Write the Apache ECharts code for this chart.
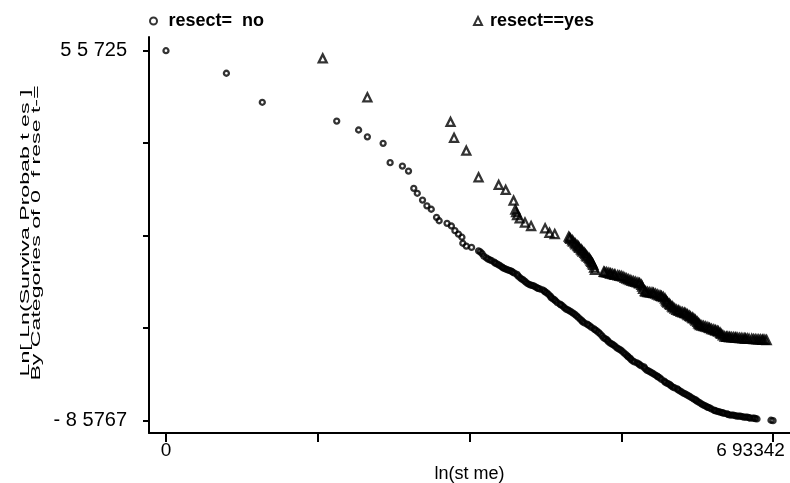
<!DOCTYPE html>
<html>
<head>
<meta charset="utf-8">
<script src="https://cdn.jsdelivr.net/npm/echarts@6/dist/echarts.min.js"></script>
<style>
html,body{margin:0;padding:0;background:#fff;}
#chart{width:790px;height:483px;}
</style>
</head>
<body>
<div id="chart"></div>
<script>
// ---- data ----
const seriesNames = ['resect=  no', 'resect==yes'];

const noX = [0, 0.69, 1.10, 1.95, 2.20, 2.30, 2.48, 2.56, 2.70, 2.77, 2.83, 2.87, 2.93, 2.98, 3.03, 3.09, 3.12, 3.21, 3.26,
  3.30, 3.34, 3.38, 3.39, 3.43, 3.49, 3.57, 3.59, 3.61, 3.63, 3.66, 3.68, 3.70, 3.72, 3.75, 3.76, 3.78, 3.80, 3.82, 3.84,
  3.85, 3.87, 3.89, 3.91, 3.93, 3.95, 3.96, 3.98, 4.01, 4.02, 4.04, 4.06, 4.08, 4.10, 4.12, 4.14, 4.16, 4.18, 4.20, 4.22,
  4.24, 4.25, 4.27, 4.30, 4.32, 4.33, 4.35, 4.37, 4.39, 4.40, 4.42, 4.44, 4.45, 4.47, 4.50, 4.51, 4.53, 4.55, 4.57, 4.59,
  4.61, 4.63, 4.65, 4.67, 4.69, 4.71, 4.73, 4.75, 4.76, 4.78, 4.81, 4.82, 4.84, 4.86, 4.89, 4.90, 4.92, 4.94, 4.96, 4.98,
  5.00, 5.02, 5.04, 5.05, 5.07, 5.09, 5.11, 5.13, 5.15, 5.17, 5.19, 5.21, 5.23, 5.25, 5.27, 5.28, 5.30, 5.31, 5.33, 5.35,
  5.38, 5.40, 5.41, 5.43, 5.46, 5.47, 5.49, 5.51, 5.53, 5.55, 5.57, 5.59, 5.61, 5.62, 5.64, 5.66, 5.69, 5.70, 5.72, 5.74,
  5.76, 5.77, 5.79, 5.81, 5.84, 5.85, 5.87, 5.89, 5.91, 5.93, 5.95, 5.97, 5.99, 6.01, 6.03, 6.05, 6.06, 6.08, 6.10, 6.12,
  6.14, 6.16, 6.18, 6.19, 6.21, 6.23, 6.26, 6.27, 6.29, 6.31, 6.33, 6.35, 6.36, 6.38, 6.41, 6.42, 6.44, 6.46, 6.48, 6.50,
  6.52, 6.54, 6.56, 6.58, 6.60, 6.62, 6.64, 6.66, 6.67, 6.70, 6.72, 6.73, 6.75, 6.91, 6.93342];
const noY = [5.5725, 4.71, 3.60, 2.88, 2.54, 2.28, 2.03, 1.29, 1.16, 0.97, 0.31, 0.12, -0.14, -0.36, -0.49, -0.80, -0.93, -1.03, -1.13,
  -1.31, -1.44, -1.56, -1.79, -1.90, -1.95, -2.08, -2.12, -2.19, -2.28, -2.35, -2.40, -2.43, -2.46, -2.51, -2.55, -2.58, -2.62, -2.66, -2.70,
  -2.73, -2.76, -2.79, -2.82, -2.84, -2.87, -2.90, -2.93, -2.98, -3.04, -3.10, -3.15, -3.19, -3.25, -3.31, -3.35, -3.38, -3.40, -3.42, -3.46,
  -3.50, -3.52, -3.54, -3.57, -3.61, -3.65, -3.69, -3.75, -3.81, -3.87, -3.92, -3.96, -4.00, -4.06, -4.12, -4.15, -4.19, -4.25, -4.31, -4.34,
  -4.38, -4.42, -4.46, -4.51, -4.57, -4.63, -4.69, -4.75, -4.80, -4.84, -4.88, -4.91, -4.95, -5.01, -5.07, -5.10, -5.14, -5.20, -5.26, -5.33,
  -5.41, -5.45, -5.49, -5.54, -5.60, -5.64, -5.68, -5.73, -5.79, -5.83, -5.87, -5.92, -5.98, -6.04, -6.10, -6.14, -6.18, -6.23, -6.29, -6.33,
  -6.37, -6.40, -6.44, -6.48, -6.52, -6.58, -6.64, -6.67, -6.71, -6.75, -6.79, -6.83, -6.87, -6.90, -6.94, -7.00, -7.06, -7.10, -7.14, -7.17,
  -7.21, -7.25, -7.29, -7.32, -7.36, -7.40, -7.44, -7.48, -7.52, -7.55, -7.59, -7.63, -7.67, -7.71, -7.75, -7.78, -7.82, -7.86, -7.90, -7.94,
  -7.98, -8.01, -8.05, -8.07, -8.09, -8.13, -8.17, -8.19, -8.21, -8.23, -8.25, -8.27, -8.28, -8.30, -8.32, -8.34, -8.36, -8.36, -8.36, -8.38,
  -8.40, -8.40, -8.40, -8.42, -8.44, -8.44, -8.44, -8.46, -8.48, -8.48, -8.48, -8.50, -8.51, -8.56, -8.5767];

const yesX = [1.79, 2.30, 3.25, 3.29, 3.43, 3.57, 3.80, 3.88, 3.97, 3.99, 4.00, 4.01, 4.04, 4.10, 4.17, 4.33, 4.38, 4.44,
  4.60, 4.61, 4.62, 4.64, 4.65, 4.67, 4.68, 4.70, 4.71, 4.72, 4.74, 4.75, 4.76, 4.78, 4.79, 4.80, 4.81, 4.83, 4.84, 4.85,
  4.86, 4.87, 4.88, 4.89, 4.90,
  5.00, 5.01, 5.03, 5.05, 5.07, 5.08, 5.10, 5.12, 5.13, 5.16, 5.18, 5.20, 5.22, 5.24, 5.26, 5.28, 5.30, 5.32, 5.34, 5.36,
  5.38, 5.40, 5.41, 5.43, 5.44, 5.45, 5.47, 5.48, 5.50, 5.52, 5.54, 5.56, 5.57, 5.59, 5.61, 5.63, 5.65, 5.66, 5.68, 5.70,
  5.71, 5.72, 5.73, 5.75, 5.76, 5.78, 5.79, 5.81, 5.83, 5.85, 5.86, 5.88, 5.90, 5.92, 5.93, 5.95, 5.96, 5.98, 5.99, 6.01,
  6.02, 6.04, 6.05, 6.07, 6.08, 6.09, 6.10, 6.12, 6.14, 6.16, 6.18, 6.20, 6.21, 6.23, 6.25, 6.27, 6.28, 6.30, 6.31, 6.33,
  6.34, 6.36, 6.38, 6.40, 6.41, 6.43, 6.44, 6.46, 6.48, 6.50, 6.51, 6.53, 6.55, 6.57, 6.59, 6.61, 6.62, 6.64, 6.66, 6.69,
  6.71, 6.73, 6.75, 6.77, 6.79, 6.81, 6.82, 6.84, 6.86];
const yesY = [5.28, 3.79, 2.85, 2.24, 1.75, 0.73, 0.44, 0.25, -0.16, -0.50, -0.60, -0.71, -0.84, -1.00, -1.13, -1.22, -1.39, -1.44,
  -1.54, -1.58, -1.62, -1.68, -1.73, -1.78, -1.83, -1.88, -1.92, -1.97, -2.02, -2.06, -2.11, -2.16, -2.21, -2.26, -2.30, -2.35, -2.40, -2.45,
  -2.50, -2.56, -2.62, -2.72, -2.81,
  -2.88, -2.89, -2.90, -2.92, -2.94, -2.95, -2.97, -2.99, -3.00, -3.02, -3.04, -3.05, -3.07, -3.11, -3.14, -3.17, -3.20, -3.23, -3.25, -3.27,
  -3.29, -3.31, -3.32, -3.38, -3.45, -3.53, -3.62, -3.64, -3.66, -3.67, -3.68, -3.69, -3.70, -3.72, -3.75, -3.78, -3.80, -3.82, -3.85, -3.91,
  -3.97, -4.02, -4.06, -4.11, -4.15, -4.20, -4.24, -4.29, -4.34, -4.36, -4.38, -4.41, -4.43, -4.45, -4.47, -4.50, -4.54, -4.57, -4.60, -4.63,
  -4.66, -4.70, -4.75, -4.80, -4.85, -4.88, -4.92, -4.94, -4.96, -4.98, -5.00, -5.02, -5.04, -5.07, -5.09, -5.11, -5.13, -5.15, -5.17, -5.22,
  -5.26, -5.31, -5.36, -5.37, -5.37, -5.38, -5.38, -5.39, -5.39, -5.40, -5.40, -5.41, -5.42, -5.42, -5.43, -5.43, -5.44, -5.44, -5.45, -5.45,
  -5.46, -5.46, -5.47, -5.47, -5.47, -5.48, -5.48, -5.48, -5.49];

const xTickValues = [0, 1.733355, 3.46671, 5.200065, 6.93342];
const xLabelValues = [0, 6.93342];
const xTickLabels = ['0', '6 93342'];
const yTickValues = [5.5725, 2.0352, -1.5021, -5.0394, -8.5767];
const yLabelValues = [5.5725, -8.5767];
const yTickLabels = ['5 5 725', '- 8 5767'];
const xTitle = 'ln(st me)';
const yTitle = ['Ln[ Ln(Surviva Probab t es ]', 'By Categories of 0  f rese t-='];

// ---- chart ----
const FONT = '"Liberation Sans", Arial, sans-serif';
const chart = echarts.init(document.getElementById('chart'), null, {renderer: 'canvas'});

function pairs(xs, ys) { return xs.map((x, i) => [x, ys[i]]); }

const legendText = {fontSize: 18, fontWeight: 'bold', fontFamily: FONT, color: '#000'};

const option = {
  animation: false,
  backgroundColor: '#fff',
  textStyle: {fontFamily: FONT, color: '#000'},
  grid: {left: 149, right: 0, top: 37, bottom: 50, containLabel: false, outerBoundsMode: 'none'},
  legend: [
    {data: [seriesNames[0]], left: 149, top: 12, padding: 0, itemWidth: 8, itemHeight: 7, selectedMode: false,
     textStyle: Object.assign({padding: [0, 0, 0, 6]}, legendText)},
    {data: [seriesNames[1]], left: 473, top: 12, padding: 0, itemWidth: 8, itemHeight: 8, selectedMode: false,
     textStyle: Object.assign({padding: [0, 0, 0, 3]}, legendText)}
  ],
  xAxis: {
    type: 'value', min: -0.194, max: 7.127,
    axisLine: {show: true, onZero: false, lineStyle: {color: '#000', width: 2}},
    axisTick: {show: true, customValues: xTickValues, length: 9, lineStyle: {color: '#000', width: 2}},
    axisLabel: {
      customValues: xLabelValues, margin: 8, fontSize: 19, color: '#000', fontFamily: FONT,
      formatter: function (v) {
        const i = xLabelValues.indexOf(v);
        const t = i >= 0 ? xTickLabels[i] : '';
        return i === xLabelValues.length - 1 ? '{last|' + t + '}' : t;
      },
      rich: {last: {fontSize: 19, fontFamily: FONT, color: '#000', padding: [0, 45, 0, 0]}}
    },
    splitLine: {show: false},
    name: xTitle, nameLocation: 'middle', nameGap: 27,
    nameTextStyle: {fontSize: 18, color: '#000', fontFamily: FONT}
  },
  yAxis: {
    type: 'value', min: -9.047, max: 6.097,
    axisLine: {show: true, onZero: false, lineStyle: {color: '#000', width: 2}},
    axisTick: {show: true, customValues: yTickValues, length: 6, lineStyle: {color: '#000', width: 2}},
    axisLabel: {
      customValues: yLabelValues, margin: 22, fontSize: 20, color: '#000', fontFamily: FONT,
      formatter: function (v) {
        const i = yLabelValues.indexOf(v);
        return i >= 0 ? yTickLabels[i] : '';
      }
    },
    splitLine: {show: false}
  },
  graphic: [{
    type: 'text', x: 31, y: 233, rotation: Math.PI / 2, scaleX: 1.78, scaleY: 1,
    style: {text: yTitle.join('\n'), fontSize: 13, fontFamily: FONT, fill: '#000',
            align: 'center', verticalAlign: 'middle', lineHeight: 11}
  }],
  series: [
    {name: seriesNames[0], type: 'scatter', symbol: 'circle', symbolSize: 5,
     itemStyle: {color: 'rgba(0,0,0,0)', borderColor: '#000', borderWidth: 2.3},
     emphasis: {disabled: true}, data: pairs(noX, noY)},
    {name: seriesNames[1], type: 'scatter', symbol: 'triangle', symbolSize: 8,
     itemStyle: {color: 'rgba(0,0,0,0)', borderColor: '#000', borderWidth: 2.3},
     emphasis: {disabled: true}, data: pairs(yesX, yesY)}
  ]
};
chart.setOption(option);
</script>
</body>
</html>
